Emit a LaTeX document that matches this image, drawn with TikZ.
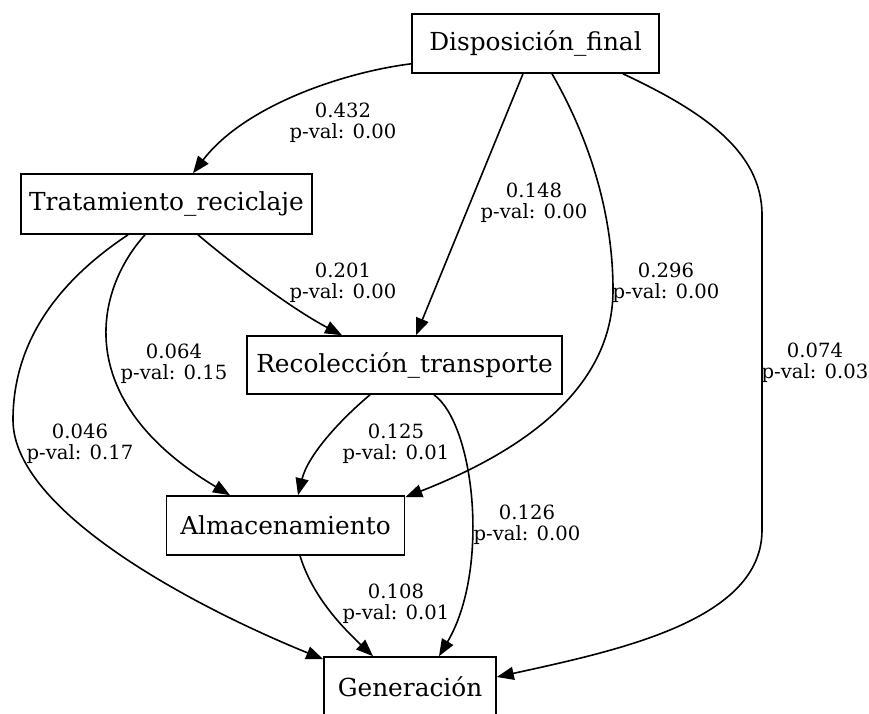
\documentclass[tikz,border=0pt]{standalone}
\usepackage{fontspec}
\setmainfont{DejaVu Serif}
\usetikzlibrary{arrows.meta}
\tikzset{
  box/.style={draw=black, line width=1.6pt, rectangle, inner sep=0pt,
    font=\fontsize{24.8}{28}\selectfont},
  lbl/.style={align=center, inner sep=0pt, font=\fontsize{19.6}{21}\selectfont},
  edge/.style={line width=1.6pt, -{Triangle[length=17pt,width=13pt]}}
}
\begin{document}
\begin{tikzpicture}[x=1pt,y=-1pt]
\useasboundingbox (0,0) rectangle (869,713);
\fill[white] (0,0) rectangle (869,713);
% nodes
\node[box, minimum width=247pt, minimum height=59pt] (disp) at (535.5,43.5) {Disposición\_final};
\node[box, minimum width=291pt, minimum height=60pt] (trat) at (166.5,204) {Tratamiento\_reciclaje};
\node[box, minimum width=315pt, minimum height=58pt] (recol) at (404.5,365) {Recolección\_transporte};
\node[box, minimum width=238pt, minimum height=59pt] (almac) at (285.5,525.5) {Almacenamiento};
\node[box, minimum width=172pt, minimum height=59pt] (gener) at (410,686.5) {Generación};
% edges
\draw[edge] ([yshift=10pt]disp.south west) .. controls (345,72) and (245,105) .. ([xshift=26.5pt]trat.north);
\draw[edge] ([xshift=-12.5pt]disp.south) -- ([xshift=11.5pt]recol.north);
\draw[edge] ([xshift=16.5pt]disp.south) .. controls (593,145) and (613,220) .. (613,290)
  .. controls (613,400) and (500,460) .. ([yshift=-2pt]almac.north east);
\draw[edge] ([xshift=87.5pt]disp.south) .. controls (700,110) and (762,150) .. (762,215)
  -- (762,530) .. controls (762,620) and (620,650) .. ([yshift=9.5pt]gener.east);
\draw[edge] ([xshift=31.5pt]trat.south) .. controls (230,262) and (290,308) .. ([xshift=-62.5pt]recol.north);
\draw[edge] ([xshift=-21.5pt]trat.south) .. controls (95,290) and (70,400) .. ([xshift=-55.5pt]almac.north);
\draw[edge] ([xshift=-38.5pt]trat.south) .. controls (60,280) and (13,340) .. (13,420)
  .. controls (13,510) and (190,605) .. ([yshift=-3pt]gener.north west);
\draw[edge] ([xshift=-34.5pt]recol.south) .. controls (340,420) and (308,455) .. ([xshift=12.5pt]almac.north);
\draw[edge] ([xshift=29.5pt]recol.south) .. controls (475,425) and (490,570) .. ([xshift=29pt]gener.north);
\draw[edge] ([xshift=14.5pt]almac.south) .. controls (312,595) and (340,625) .. ([xshift=-37pt]gener.north);
% labels
\node[lbl] (l1) at (343,123) {0.432\\p-val: 0.00};
\node[lbl] (l2) at (534,202.5) {0.148\\p-val: 0.00};
\node[lbl] (l3) at (666,283) {0.296\\p-val: 0.00};
\node[lbl] (l4) at (815,363) {0.074\\p-val: 0.03};
\node[lbl] (l5) at (343,283) {0.201\\p-val: 0.00};
\node[lbl] (l6) at (174,363.5) {0.064\\p-val: 0.15};
\node[lbl] (l7) at (80,443.5) {0.046\\p-val: 0.17};
\node[lbl] (l8) at (396,444) {0.125\\p-val: 0.01};
\node[lbl] (l9) at (527,524.5) {0.126\\p-val: 0.00};
\node[lbl] (l10) at (396,604) {0.108\\p-val: 0.01};
\end{tikzpicture}
\end{document}
